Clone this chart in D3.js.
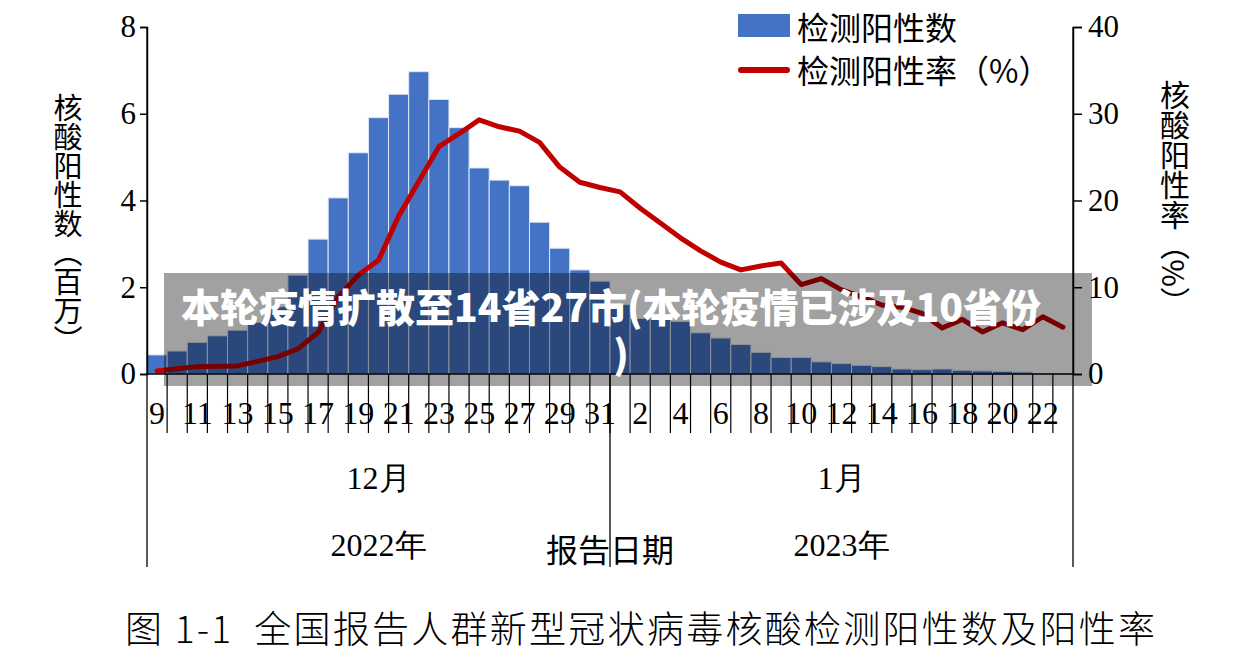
<!DOCTYPE html>
<html>
<head>
<meta charset="utf-8">
<script src="https://cdn.jsdelivr.net/npm/d3@7"></script>
<style>
  html, body { margin: 0; padding: 0; background: #ffffff; }
  svg { display: block; }
</style>
</head>
<body>
<svg id="chart" width="1258" height="662"></svg>
<script>
// ---- data ----
const days = [9,10,11,12,13,14,15,16,17,18,19,20,21,22,23,24,25,26,27,28,29,30,31,
              1,2,3,4,5,6,7,8,9,10,11,12,13,14,15,16,17,18,19,20,21,22,23];
const positives = [0.44,0.53,0.73,0.88,1.01,1.19,1.55,2.28,3.11,4.06,5.10,5.91,6.45,6.97,6.33,5.68,4.75,4.47,4.34,3.50,2.90,2.40,2.14,
                   1.60,1.28,1.32,1.21,0.95,0.83,0.68,0.50,0.38,0.38,0.28,0.24,0.20,0.17,0.115,0.10,0.115,0.085,0.07,0.06,0.045,0.01,0.01];
const rates = [0.35,0.6,0.85,0.9,0.93,1.45,2.0,2.9,4.8,8.9,11.4,13.1,18.2,22.2,26.2,27.7,29.3,28.5,28.0,26.7,23.85,22.1,21.5,
               21.0,19.1,17.4,15.7,14.2,12.9,12.0,12.45,12.8,10.3,11.0,9.7,8.9,7.95,7.7,7.0,5.3,6.3,4.85,5.9,5.1,6.6,5.4];
const monthLabels = ["12月", "1月"];
const monthLengths = [23, 23];
const yearLabels = ["2022年", "2023年"];
const leftTicks = [0, 2, 4, 6, 8];
const rightTicks = [0, 10, 20, 30, 40];
const legendLabels = ["检测阳性数", "检测阳性率（%）"];
const leftTitle = "核酸阳性数（百万）";
const rightTitle = "核酸阳性率（%）";
const xTitle = "报告日期";
const chartTitle = "图 1-1\u00a0\u00a0全国报告人群新型冠状病毒核酸检测阳性数及阳性率";
const overlayLines = ["本轮疫情扩散至14省27市(本轮疫情已涉及10省份", ")"];

// ---- layout ----
const L = 147, R = 1073, T = 27, B = 374;
const numFont = "'Liberation Serif', 'Times New Roman', serif";
const cjkFont = "'Noto Sans CJK SC', 'Noto Sans', sans-serif";

const svg = d3.select("#chart");
const idx = d3.range(days.length);
const x = d3.scaleBand().domain(idx).range([L, R]).padding(0);
const yL = d3.scaleLinear().domain([0, 8]).range([B, T]);
const yR = d3.scaleLinear().domain([0, 40]).range([B, T]);

// bars
svg.append("g").selectAll("rect").data(positives).join("rect")
  .attr("x", (d, i) => x(i))
  .attr("y", d => yL(d))
  .attr("width", x.bandwidth())
  .attr("height", d => B - yL(d))
  .attr("fill", "#4472C4")
  .attr("stroke", "#dfe8f7")
  .attr("stroke-width", 1);

// line
const line = d3.line().x((d, i) => x(i) + x.bandwidth() / 2).y(d => yR(d));
svg.append("path").datum(rates)
  .attr("d", line)
  .attr("fill", "none")
  .attr("stroke", "#C00000")
  .attr("stroke-width", 5)
  .attr("stroke-linejoin", "round")
  .attr("stroke-linecap", "round");

// left axis
const gl = svg.append("g").attr("transform", `translate(${L},0)`)
  .call(d3.axisLeft(yL).tickValues(leftTicks).tickSize(7).tickPadding(4).tickFormat(d3.format("d")));
gl.select(".domain").attr("stroke", "#000").attr("stroke-width", 1.5);
gl.selectAll(".tick line").attr("stroke", "#000").attr("stroke-width", 1.5);
gl.selectAll(".tick text").attr("font-family", numFont).attr("font-size", 31).attr("fill", "#000");

// right axis
const gr = svg.append("g").attr("transform", `translate(${R},0)`)
  .call(d3.axisRight(yR).tickValues(rightTicks).tickSize(9).tickPadding(6).tickFormat(d3.format("d")));
gr.select(".domain").attr("stroke", "#000").attr("stroke-width", 1.5);
gr.selectAll(".tick line").attr("stroke", "#000").attr("stroke-width", 1.5);
gr.selectAll(".tick text").attr("font-family", numFont).attr("font-size", 31).attr("fill", "#000");

// bottom axis: day labels
const gx = svg.append("g").attr("transform", `translate(0,${B})`)
  .call(d3.axisBottom(x).tickValues(idx.filter(i => i % 2 === 0)).tickSize(0).tickPadding(0)
        .tickFormat(i => days[i]));
gx.select(".domain").remove();
gx.selectAll(".tick text").attr("font-family", numFont).attr("font-size", 32).attr("fill", "#000")
  .attr("y", 39).attr("dy", "0.35em");
svg.append("line").attr("x1", L).attr("x2", R).attr("y1", B).attr("y2", B)
  .attr("stroke", "#000").attr("stroke-width", 1.5);

// category boundary ticks
svg.append("g").selectAll("line").data(d3.range(1, days.length)).join("line")
  .attr("x1", i => x(i)).attr("x2", i => x(i))
  .attr("y1", B).attr("y2", 433)
  .attr("stroke", "#000").attr("stroke-width", 1.2);

// month / year separators
let acc = 0;
const bounds = [0];
monthLengths.forEach(n => { acc += n; bounds.push(acc); });
const bx = b => (b >= days.length ? R : x(b));
svg.append("g").selectAll("line").data(bounds).join("line")
  .attr("x1", bx).attr("x2", bx)
  .attr("y1", (b, j) => (j === 0 || j === bounds.length - 1) ? T : B)
  .attr("y2", 567)
  .attr("stroke", "#000").attr("stroke-width", 1.3);

monthLabels.forEach((m, j) => {
  const cx = (bx(bounds[j]) + bx(bounds[j + 1])) / 2;
  svg.append("text").attr("x", cx).attr("y", 478).attr("text-anchor", "middle")
    .attr("dominant-baseline", "central").attr("font-family", numFont).attr("font-size", 32)
    .text(m);
  svg.append("text").attr("x", cx).attr("y", 545).attr("text-anchor", "middle")
    .attr("dominant-baseline", "central").attr("font-family", numFont).attr("font-size", 32)
    .text(yearLabels[j]);
});

svg.append("text").attr("x", 610).attr("y", 548).attr("text-anchor", "middle")
  .attr("dominant-baseline", "central").attr("font-family", cjkFont).attr("font-size", 32)
  .text(xTitle);

// axis titles (vertical)
svg.append("text").attr("x", 68).attr("y", 224).attr("text-anchor", "middle")
  .style("writing-mode", "vertical-rl")
  .attr("font-family", cjkFont).attr("font-size", 29).attr("fill", "#000")
  .text(leftTitle);
svg.append("text").attr("x", 1175).attr("y", 198).attr("text-anchor", "middle")
  .style("writing-mode", "vertical-rl")
  .attr("font-family", cjkFont).attr("font-size", 30).attr("fill", "#000")
  .text(rightTitle);

// legend
svg.append("rect").attr("x", 738).attr("y", 14).attr("width", 52).attr("height", 23).attr("fill", "#4472C4");
svg.append("text").attr("x", 797).attr("y", 26).attr("dominant-baseline", "central")
  .attr("font-family", cjkFont).attr("font-size", 32).text(legendLabels[0]);
svg.append("line").attr("x1", 741).attr("x2", 787).attr("y1", 70).attr("y2", 70)
  .attr("stroke", "#C00000").attr("stroke-width", 6).attr("stroke-linecap", "round");
svg.append("text").attr("x", 797).attr("y", 69).attr("dominant-baseline", "central")
  .attr("font-family", cjkFont).attr("font-size", 32).text(legendLabels[1]);

// chart title
svg.append("text").attr("x", 125).attr("y", 627).attr("dominant-baseline", "central")
  .attr("font-family", cjkFont).attr("font-size", 37).attr("font-weight", 300)
  .attr("textLength", 1030).attr("lengthAdjust", "spacing")
  .text(chartTitle);

// overlay banner
svg.append("rect").attr("x", 164).attr("y", 273).attr("width", 928).attr("height", 113)
  .attr("fill", "#000").attr("fill-opacity", 0.37);
svg.append("text").attr("x", 611).attr("y", 305).attr("text-anchor", "middle")
  .attr("dominant-baseline", "central").attr("font-family", cjkFont).attr("font-size", 39)
  .attr("font-weight", 900).attr("fill", "#fff").text(overlayLines[0]);
svg.append("text").attr("x", 621).attr("y", 352).attr("text-anchor", "middle")
  .attr("dominant-baseline", "central").attr("font-family", cjkFont).attr("font-size", 39)
  .attr("font-weight", 900).attr("fill", "#fff").text(overlayLines[1]);
</script>
</body>
</html>
